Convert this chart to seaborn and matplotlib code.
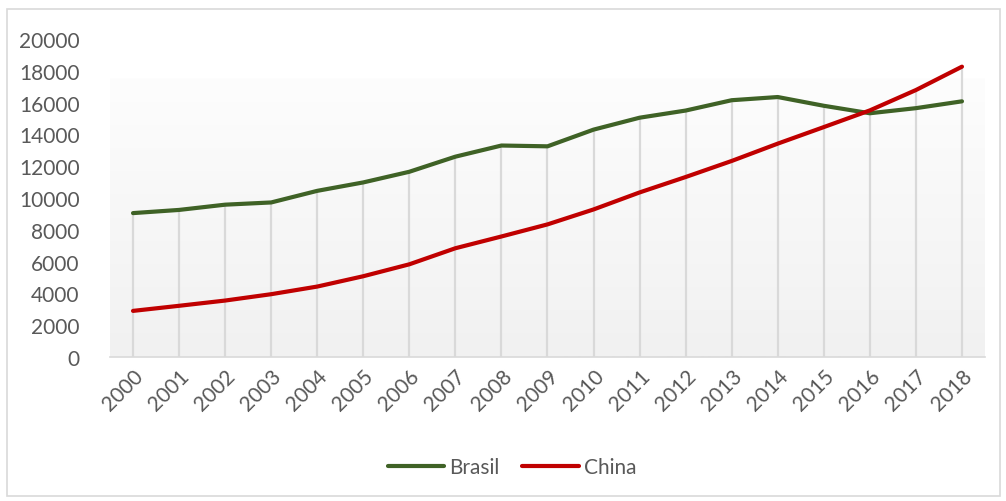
import numpy as np
import pandas as pd
import matplotlib
matplotlib.use("Agg")
import matplotlib.pyplot as plt
import seaborn as sns
from matplotlib.patches import Rectangle
from matplotlib.colors import LinearSegmentedColormap

years = ["2000", "2001", "2002", "2003", "2004", "2005", "2006", "2007", "2008", "2009",
         "2010", "2011", "2012", "2013", "2014", "2015", "2016", "2017", "2018"]
brasil = [9050, 9250, 9580, 9720, 10450, 10980, 11650, 12600, 13300, 13250,
          14300, 15050, 15500, 16150, 16350, 15800, 15330, 15650, 16080]
china = [2900, 3220, 3550, 3950, 4430, 5080, 5830, 6840, 7580, 8340,
         9280, 10350, 11320, 12330, 13420, 14460, 15510, 16790, 18260]
yticks = [0, 2000, 4000, 6000, 8000, 10000, 12000, 14000, 16000, 18000, 20000]

df = pd.DataFrame({"year": years * 2,
                   "value": brasil + china,
                   "series": ["Brasil"] * len(years) + ["China"] * len(years)})

sns.set_theme(style="white")
plt.rcParams['font.family'] = ['Lato', 'DejaVu Sans']
txt = "#595959"

fig = plt.figure(figsize=(10.06, 5.02), dpi=100)
fig.patches.append(Rectangle((7 / 1006, 1 - 497 / 502), 993 / 1006, 487 / 502,
                             transform=fig.transFigure, fill=False,
                             edgecolor="#d9d9d9", linewidth=1.2))
ax = fig.add_axes([110 / 1006, 1 - 358 / 502, 875 / 1006, 318 / 502])

# gradient background
grad = np.linspace(0, 1, 256).reshape(-1, 1)
cmap = LinearSegmentedColormap.from_list("g", ["#f1f1f1", "#fdfdfd"])
ax.imshow(grad, aspect="auto", cmap=cmap, origin="lower",
          extent=(-0.5, len(years) - 0.5, 0, 17500), zorder=0)

# drop lines
x = np.arange(len(years))
tops = np.maximum(brasil, china)
ax.vlines(x, 0, tops, color="#d9d9d9", linewidth=1.6, zorder=1)

sns.lineplot(data=df, x="year", y="value", hue="series",
             palette={"Brasil": "#3f6226", "China": "#c00000"},
             linewidth=3.0, ax=ax, sort=False, zorder=3)

ax.set_xlim(-0.5, len(years) - 0.5)
ax.set_ylim(0, 20000)
ax.set_yticks(yticks)
ax.set_yticklabels([str(v) for v in yticks])
ax.set_xticks(x)
ax.set_xticklabels(years, rotation=45, ha="right", rotation_mode="anchor")
ax.tick_params(axis="both", length=0, labelsize=15, labelcolor=txt)
ax.tick_params(axis="y", pad=22)
ax.tick_params(axis="x", pad=6)
ax.set_xlabel("")
ax.set_ylabel("")
ax.grid(False)
for s in ["top", "right", "left"]:
    ax.spines[s].set_visible(False)
ax.spines["bottom"].set_color("#d9d9d9")
ax.spines["bottom"].set_linewidth(1.2)
ax.set_facecolor("white")

handles, labels = ax.get_legend_handles_labels()
ax.get_legend().remove()
fig.legend(handles, labels, loc="center", bbox_to_anchor=(512 / 1006, 1 - 468 / 502),
           ncol=2, frameon=False, fontsize=15, labelcolor=txt,
           handlelength=2.7, handletextpad=0.25, columnspacing=1.1)

fig.savefig("out.png", dpi=100)
